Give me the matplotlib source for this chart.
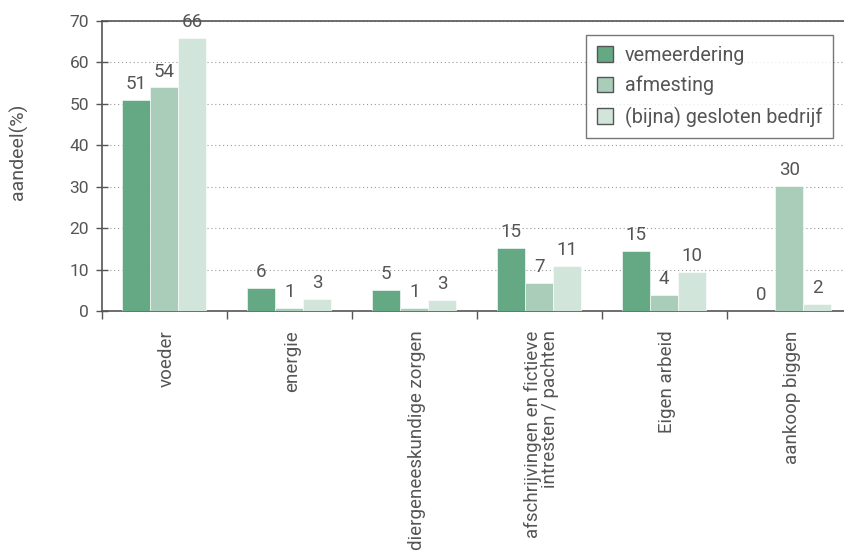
import matplotlib
matplotlib.use("Agg")
import matplotlib.pyplot as plt
import numpy as np

categories = ["voeder", "energie", "diergeneeskundige zorgen",
              "afschrijvingen en fictieve\nintresten / pachten",
              "Eigen arbeid", "aankoop biggen"]
series_names = ["vemeerdering", "afmesting", "(bijna) gesloten bedrijf"]
vemeerdering = [50.8, 5.6, 5.1, 15.3, 14.5, 0.0]
afmesting = [53.9, 0.7, 0.7, 6.7, 3.9, 30.1]
gesloten = [65.8, 3.0, 2.6, 10.8, 9.5, 1.7]
label_vemeerdering = [51, 6, 5, 15, 15, 0]
label_afmesting = [54, 1, 1, 7, 4, 30]
label_gesloten = [66, 3, 3, 11, 10, 2]
yticks = [0, 10, 20, 30, 40, 50, 60, 70]

colors = ["#65A884", "#A9CDB9", "#D2E5DA"]
txt = "#555555"
num_font = ["Roboto", "DejaVu Sans"]

fig = plt.figure(figsize=(8.44, 5.58), dpi=100)
ax = fig.add_axes([101.7 / 844, 247 / 558, 750 / 844, 290.3 / 558])

x = np.arange(len(categories))
w = 0.224
values = [vemeerdering, afmesting, gesloten]
labels = [label_vemeerdering, label_afmesting, label_gesloten]
for i, (vals, labs) in enumerate(zip(values, labels)):
    pos = x + (i - 1) * w
    bars = ax.bar(pos, vals, width=w, color=colors[i], edgecolor="white",
                  linewidth=0.4, label=series_names[i], zorder=3)
    for b, lab in zip(bars, labs):
        ax.annotate(str(lab), (b.get_x() + b.get_width() / 2, b.get_height()),
                    xytext=(0, 5), textcoords="offset points",
                    ha="center", va="bottom", fontsize=13.5,
                    family=num_font, color=txt, zorder=4)

ax.set_xlim(-0.5, len(categories) - 0.5)
ax.set_ylim(0, 70)
ax.set_yticks(yticks)
ax.set_yticklabels([str(t) for t in yticks], family=num_font, fontsize=12.5, color=txt)
ax.set_xticks(np.arange(len(categories) + 1) - 0.5)
ax.set_xticklabels([])
ax.set_xticks(x + 0.02, minor=True)
ax.set_xticklabels(categories, minor=True, rotation=90, ha="center", va="top",
                   multialignment="right", fontsize=13.5, color=txt,
                   family=num_font, linespacing=0.92)
ax.tick_params(axis="x", which="minor", length=0, pad=14)
ax.tick_params(axis="x", which="major", length=6, width=1, color=txt, direction="out")
ax.tick_params(axis="y", length=8, width=1, color=txt, direction="inout", pad=5)

for s in ["left", "bottom", "top"]:
    ax.spines[s].set_color(txt)
    ax.spines[s].set_linewidth(1.2)
ax.spines["right"].set_visible(False)

ax.yaxis.grid(True, linestyle=(0, (1, 2.5)), color="#999999", linewidth=0.8, zorder=0)
ax.set_axisbelow(True)

ax.set_ylabel("aandeel(%)", family=num_font, fontsize=14, color=txt)
ax.yaxis.set_label_coords(-0.098, 0.548)

leg = ax.legend(loc="upper right", bbox_to_anchor=((833 - 101.7) / 750, (311 - 35) / 290.3),
                borderaxespad=0,
                frameon=True, fancybox=False, edgecolor="#555555",
                prop={"family": num_font, "size": 14.2}, labelcolor=txt,
                handlelength=0.8, handleheight=0.85, handletextpad=0.6,
                borderpad=0.55, labelspacing=0.56)
leg.get_frame().set_linewidth(1.0)
for p in leg.get_patches():
    p.set_edgecolor("#555555")
    p.set_linewidth(1.0)

fig.savefig("out.png", dpi=100)
